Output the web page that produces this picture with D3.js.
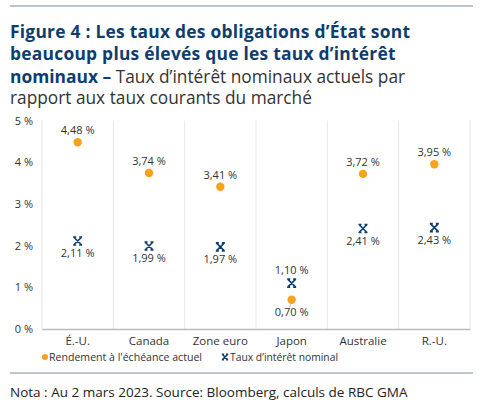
<!DOCTYPE html>
<html><head><meta charset="utf-8">
<script src="https://cdn.jsdelivr.net/npm/d3@7"></script>
<style>body{margin:0;background:#fff}svg{display:block}text{font-family:"Open Sans",sans-serif}</style>
</head><body><svg id="c" width="498" height="412"></svg>
<script>
const categories = ["É.-U.","Canada","Zone euro","Japon","Australie","R.-U."];
const rendement = [4.48,3.74,3.41,0.70,3.72,3.95];
const nominal = [2.11,1.99,1.97,1.10,2.41,2.43];
const yTicks = [0,1,2,3,4,5];
const seriesNames = ["Rendement à l'échéance actuel","Taux d’intérêt nominal"];
const fmt = v => v.toFixed(2).replace(".", ",") + " %";

const svg = d3.select("#c");
const blue = "#0e3d6e", orange = "#f7a21b", txt = "#333";
svg.append("line").attr("x1",10).attr("x2",473).attr("y1",6).attr("y2",6).attr("stroke","#bcc5ce").attr("stroke-width",2);
svg.append("line").attr("x1",10).attr("x2",473).attr("y1",373).attr("y2",373).attr("stroke","#bcc5ce").attr("stroke-width",2);

const t = svg.append("text").attr("x",10).attr("y",38).attr("font-size",17.4).attr("fill",blue);
t.append("tspan").attr("x",10).attr("y",38).attr("font-weight",700).attr("letter-spacing",0.25).text("Figure 4 : Les taux des obligations d’État sont");
t.append("tspan").attr("x",10).attr("y",60.3).attr("font-weight",700).attr("letter-spacing",0.25).text("beaucoup plus élevés que les taux d’intérêt");
t.append("tspan").attr("x",10).attr("y",82.5).attr("font-weight",700).text("nominaux – ");
t.append("tspan").attr("font-weight",400).attr("font-size",17.3).attr("fill","#333").text("Taux d’intérêt nominaux actuels par");
t.append("tspan").attr("x",10).attr("y",103.5).attr("font-weight",400).attr("font-size",17.3).attr("fill","#333").text("rapport aux taux courants du marché");

const x = d3.scaleBand().domain(categories).range([42,470]);
const y = d3.scaleLinear().domain([0,5]).range([329,120.5]);

// vertical separators
svg.append("g").selectAll("line").data(d3.range(categories.length+1)).join("line")
  .attr("x1",i=>42+i*x.step()).attr("x2",i=>42+i*x.step()).attr("y1",y(5)).attr("y2",y(0))
  .attr("stroke","#e6e6e6").attr("stroke-width",1);

const ya = svg.append("g").attr("transform","translate(42,0)")
  .call(d3.axisLeft(y).tickValues(yTicks).tickSize(0).tickPadding(9).tickFormat(d=>d+" %"));
ya.select(".domain").remove();
ya.selectAll("text").attr("font-family","Open Sans").attr("font-size",11).attr("fill",txt);

const xa = svg.append("g").attr("transform","translate(0,329)")
  .call(d3.axisBottom(x).tickSize(0).tickPadding(8));
xa.select(".domain").attr("stroke","#bbb").attr("stroke-width",1.5);
xa.selectAll("text").attr("font-family","Open Sans").attr("font-size",11.5).attr("fill",txt);

const cx = c => x(c)+x.bandwidth()/2;
const star = "M-4,-4L4,4M4,-4L-4,4M-4.5,-4L-1.5,-4M1.5,-4L4.5,-4M-4.5,4L-1.5,4M1.5,4L4.5,4";

// leader line for Japan
svg.append("line").attr("x1",cx("Japon")).attr("x2",cx("Japon")-2).attr("y1",y(0.70)).attr("y2",y(0.70)+8).attr("stroke","#ccc");

svg.append("g").selectAll("circle").data(categories).join("circle")
  .attr("cx",cx).attr("cy",(d,i)=>y(rendement[i])).attr("r",4.2).attr("fill",orange);
svg.append("g").selectAll("path").data(categories).join("path")
  .attr("transform",(d,i)=>`translate(${cx(d)},${y(nominal[i])})`).attr("d",star)
  .attr("stroke",blue).attr("stroke-width",1.6).attr("fill","none");

const lab = svg.append("g").attr("font-size",11).attr("fill",txt).attr("text-anchor","middle");
categories.forEach((c,i)=>{
  const r = rendement[i], n = nominal[i];
  const rAbove = r > n;
  lab.append("text").attr("x",cx(c)).attr("y", rAbove ? y(r)-8 : y(r)+16).text(fmt(r));
  lab.append("text").attr("x",cx(c)).attr("y", rAbove ? y(n)+16 : y(n)-9).text(fmt(n));
});

// legend
const lg = svg.append("g").attr("font-size",10.8).attr("fill",txt);
lg.append("circle").attr("cx",45).attr("cy",357).attr("r",3).attr("fill",orange);
lg.append("text").attr("x",49).attr("y",361).attr("textLength",153).attr("lengthAdjust","spacingAndGlyphs").text(seriesNames[0]);
lg.append("path").attr("transform","translate(225,357) scale(0.7)").attr("d",star).attr("stroke",blue).attr("stroke-width",2.2).attr("fill","none");
lg.append("text").attr("x",230).attr("y",361).attr("textLength",108).attr("lengthAdjust","spacingAndGlyphs").text(seriesNames[1]);

svg.append("text").attr("x",10).attr("y",397).attr("font-size",13.5).attr("fill","#222")
  .text("Nota : Au 2 mars 2023. Source: Bloomberg, calculs de RBC GMA");
</script></body></html>
